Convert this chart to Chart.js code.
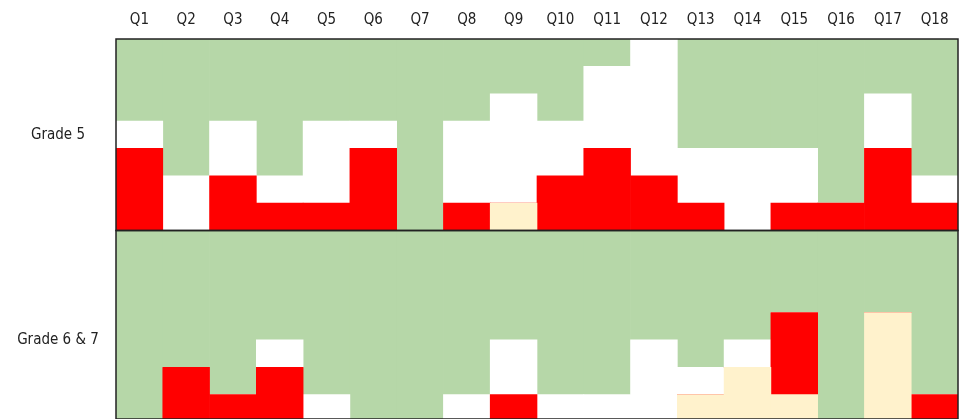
<!DOCTYPE html>
<html lang="en">
<head>
    <meta charset="UTF-8">
    <title>Answers by Question and Grade</title>
    <script src="https://cdn.jsdelivr.net/npm/chart.js"></script>
    <style>
        html, body {
            margin: 0;
            padding: 0;
            background: #ffffff;
            overflow: hidden;
        }

        .chart-wrapper {
            position: relative;
            width: 960px;
            height: 419px;
        }
    </style>
</head>
<body>
    <div class="chart-wrapper">
        <canvas id="gradeChart"></canvas>
    </div>
    <script>
        const questions = ['Q1', 'Q2', 'Q3', 'Q4', 'Q5', 'Q6', 'Q7', 'Q8', 'Q9',
            'Q10', 'Q11', 'Q12', 'Q13', 'Q14', 'Q15', 'Q16', 'Q17', 'Q18'];
        const grades = ['Grade 5', 'Grade 6 & 7'];

        // student counts per question, stacked bottom to top: cream, red, white, green
        const grade5Cream = [0, 0, 0, 0, 0, 0, 0, 0, 1, 0, 0, 0, 0, 0, 0, 0, 0, 0];
        const grade5Red   = [3, 0, 2, 1, 1, 3, 0, 1, 0, 2, 3, 2, 1, 0, 1, 1, 3, 1];
        const grade5White = [1, 2, 2, 1, 3, 1, 0, 3, 4, 2, 3, 5, 2, 3, 2, 0, 2, 1];
        const grade5Green = [3, 5, 3, 5, 3, 3, 7, 3, 2, 3, 1, 0, 4, 4, 4, 6, 2, 5];

        // lower panel is cut off by the picture, bottom row is a guess
        const grade67Cream = [0, 0, 0, 0, 0, 0, 0, 0, 0, 0, 0, 0, 2, 3, 2, 0, 5, 0];
        const grade67Red   = [0, 3, 2, 3, 0, 0, 0, 0, 2, 0, 0, 0, 0, 0, 3, 0, 0, 2];
        const grade67White = [0, 0, 0, 1, 2, 0, 0, 2, 2, 2, 2, 4, 1, 1, 0, 0, 0, 0];
        const grade67Green = [8, 5, 6, 4, 6, 8, 8, 6, 4, 6, 6, 4, 5, 4, 3, 8, 3, 6];

        const colors = {
            cream: '#fff2cc',
            red: '#ff0000',
            white: '#ffffff',
            green: '#b6d7a8'
        };

        const labelFont = {
            family: "'Liberation Sans Narrow', 'DejaVu Sans Condensed', 'Roboto', sans-serif",
            size: 15
        };
        const axisWidth = 116;
        const labelCenter = 58;

        // measure grade labels so both sit centred in the left margin
        const measureCtx = document.createElement('canvas').getContext('2d');
        measureCtx.font = labelFont.size + 'px ' + labelFont.family;
        function paddingFor(label) {
            return axisWidth - labelCenter - measureCtx.measureText(label).width / 2;
        }

        function bar(label, data, color, axis) {
            return {
                label: label,
                data: data,
                backgroundColor: color,
                borderWidth: 0,
                barPercentage: 1,
                categoryPercentage: 1,
                yAxisID: axis
            };
        }

        // draw a frame around each grade panel
        const panelFrame = {
            id: 'panelFrame',
            afterDatasetsDraw(chart) {
                const ctx = chart.ctx;
                const area = chart.chartArea;
                ctx.save();
                ctx.strokeStyle = '#222';
                ctx.lineWidth = 1.5;
                ['y5', 'y67'].forEach(id => {
                    const s = chart.scales[id];
                    ctx.strokeRect(area.left, s.top, area.right - area.left, s.bottom - s.top);
                });
                ctx.restore();
            }
        };

        function gradeAxis(label, min, max, mid, weight) {
            return {
                type: 'linear',
                position: 'left',
                stack: 'grades',
                stackWeight: weight,
                stacked: true,
                min: min,
                max: max,
                grid: { display: false, drawTicks: false },
                border: { display: false },
                afterBuildTicks: scale => { scale.ticks = [{ value: mid }]; },
                afterFit: scale => {
                    scale.width = axisWidth;
                    scale.paddingTop = 0;
                    scale.paddingBottom = 0;
                },
                ticks: {
                    crossAlign: 'near',
                    padding: paddingFor(label),
                    color: '#222',
                    font: labelFont,
                    callback: () => label
                }
            };
        }

        new Chart(document.getElementById('gradeChart'), {
            type: 'bar',
            data: {
                labels: questions,
                datasets: [
                    bar('Grade 5 cream', grade5Cream, colors.cream, 'y5'),
                    bar('Grade 5 red', grade5Red, colors.red, 'y5'),
                    bar('Grade 5 white', grade5White, colors.white, 'y5'),
                    bar('Grade 5 green', grade5Green, colors.green, 'y5'),
                    bar('Grade 6 & 7 cream', grade67Cream, colors.cream, 'y67'),
                    bar('Grade 6 & 7 red', grade67Red, colors.red, 'y67'),
                    bar('Grade 6 & 7 white', grade67White, colors.white, 'y67'),
                    bar('Grade 6 & 7 green', grade67Green, colors.green, 'y67')
                ]
            },
            options: {
                responsive: true,
                maintainAspectRatio: false,
                animation: false,
                layout: {
                    padding: { top: 1, right: 2, bottom: 0, left: 0 }
                },
                scales: {
                    x: {
                        position: 'top',
                        stacked: true,
                        grid: { display: false, drawTicks: false },
                        border: { display: false },
                        ticks: {
                            padding: 10,
                            color: '#222',
                            font: labelFont,
                            maxRotation: 0
                        }
                    },
                    y67: gradeAxis(grades[1], 1.11, 8, 4, 6.89),
                    y5: gradeAxis(grades[0], 0, 7, 3.5, 7)
                },
                plugins: {
                    legend: { display: false },
                    tooltip: { enabled: false }
                }
            },
            plugins: [panelFrame]
        });
    </script>
</body>
</html>
